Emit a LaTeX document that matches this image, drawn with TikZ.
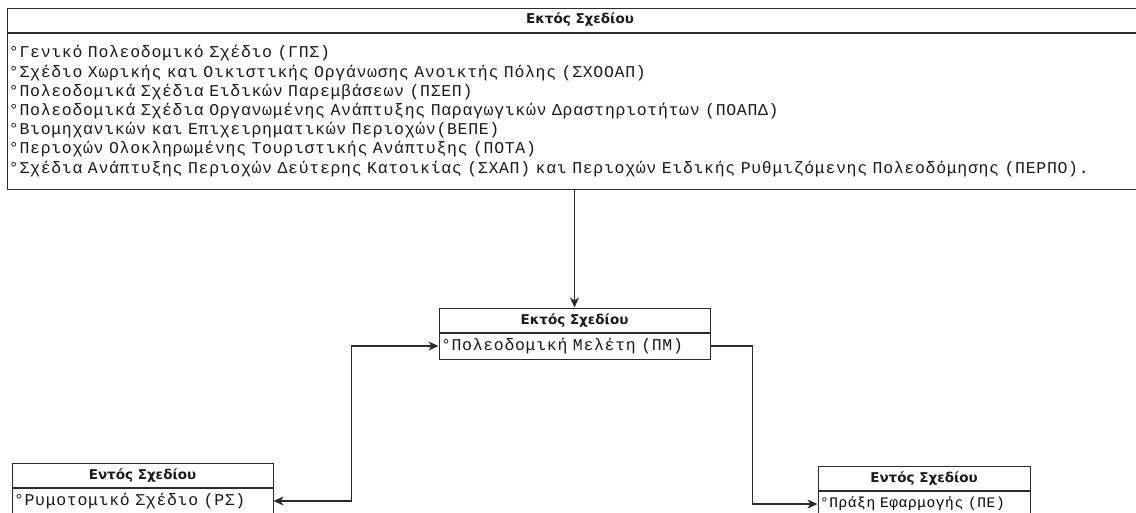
\documentclass[tikz,border=0pt]{standalone}
\usepackage{fontspec}
\usetikzlibrary{arrows.meta, positioning}
\newfontfamily\itemfont[LetterSpace=4.2, WordSpace=1.07]{Liberation Mono}
\newfontfamily\hdrfont{DejaVu Sans}
\definecolor{boxLine}{HTML}{2B2B2B}
\definecolor{textDark}{HTML}{1A1A1A}

\begin{document}
\begin{tikzpicture}[
    x=1pt, y=-1pt,
    hdr/.style={rectangle, draw=boxLine, fill=white, line width=1pt,
                minimum height=24pt, inner sep=0pt,
                font=\hdrfont\bfseries\fontsize{13.5}{15}\selectfont\color{textDark}},
    body/.style={rectangle, draw=boxLine, fill=white, line width=1pt,
                 minimum height=26pt, inner xsep=2pt, inner ysep=0pt, align=left,
                 font=\itemfont\fontsize{16.5}{19.2}\selectfont\color{textDark}},
    conn/.style={draw=boxLine, line width=1.3pt,
                 arrows={-Stealth[length=10pt, width=9pt, inset=3pt]}},
  ]
    \useasboundingbox (0,0) rectangle (1136,512);
    \clip (0,0) rectangle (1136,512);

    % upper box, runs past the right edge
    \node[hdr, minimum width=1146pt] (ektosHdr) at (580,20) {Εκτός Σχεδίου};
    \node[body, text width=1142pt, minimum height=156pt, below=0pt of ektosHdr] (ektos)
      {°Γενικό Πολεοδομικό Σχέδιο (ΓΠΣ)\\
       °Σχέδιο Χωρικής και Οικιστικής Οργάνωσης Ανοικτής Πόλης (ΣΧΟΟΑΠ)\\
       °Πολεοδομικά Σχέδια Ειδικών Παρεμβάσεων (ΠΣΕΠ)\\
       °Πολεοδομικά Σχέδια Οργανωμένης Ανάπτυξης Παραγωγικών Δραστηριοτήτων (ΠΟΑΠΔ)\\
       °Βιομηχανικών και Επιχειρηματικών Περιοχών(ΒΕΠΕ)\\
       °Περιοχών Ολοκληρωμένης Τουριστικής Ανάπτυξης (ΠΟΤΑ)\\
       °Σχέδια Ανάπτυξης Περιοχών Δεύτερης Κατοικίας (ΣΧΑΠ) και Περιοχών Ειδικής Ρυθμιζόμενης Πολεοδόμησης (ΠΕΡΠΟ).};

    \node[hdr, minimum width=271pt] (pmHdr) at (574.5,320) {Εκτός Σχεδίου};
    \node[body, text width=267pt, below=0pt of pmHdr] (pm)
      {°Πολεοδομική Μελέτη (ΠΜ)};

    \node[hdr, minimum width=261pt] (rsHdr) at (142.5,475) {Εντός Σχεδίου};
    \node[body, text width=257pt, below=0pt of rsHdr] (rs)
      {°Ρυμοτομικό Σχέδιο (ΡΣ)};

    \node[hdr, minimum width=212pt] (peHdr) at (924,478) {Εντός Σχεδίου};
    \node[body, text width=208pt, below=0pt of peHdr,
          font=\itemfont\fontsize{14.5}{19.2}\selectfont] (pe)
      {°Πράξη Εφαρμογής (ΠΕ)};

    \draw[conn] (ektos.south -| pmHdr.north) -- (pmHdr.north);
    \draw[conn, arrows={Stealth[length=10pt, width=9pt, inset=3pt]-Stealth[length=10pt, width=9pt, inset=3pt]}]
      (rs.east) -- ++(78,0) |- (pm.west);
    \draw[conn] (pm.east) -- ++(42,0) |- (pe.west);
  \end{tikzpicture}
\end{document}
